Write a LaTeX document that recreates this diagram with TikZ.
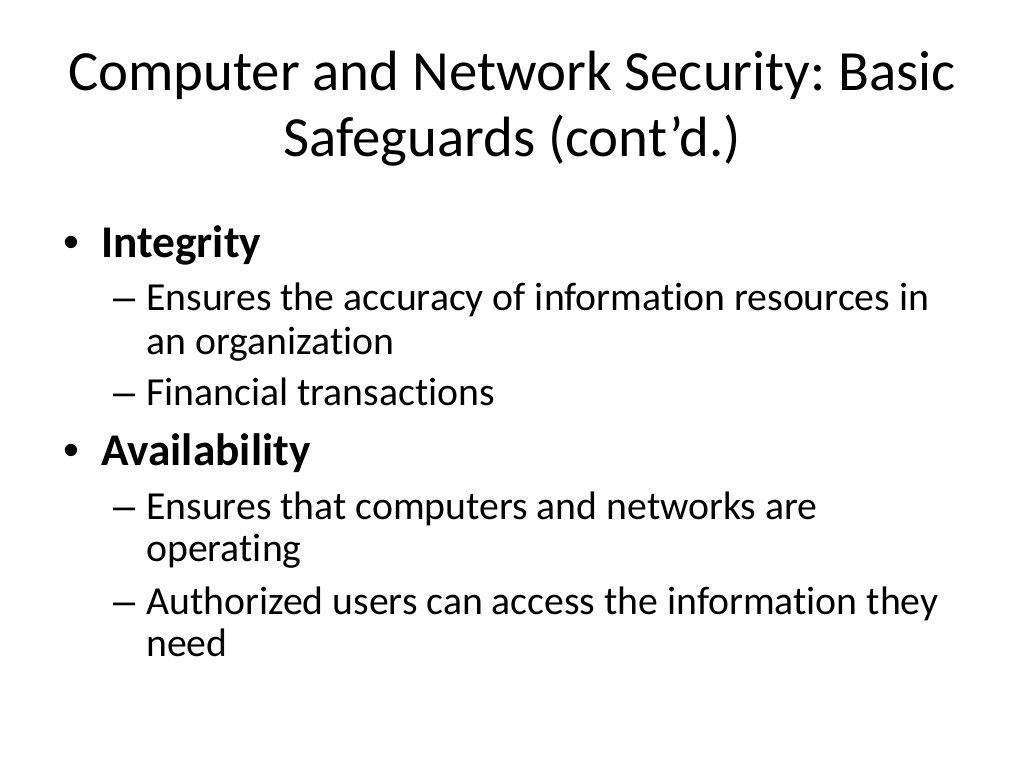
\documentclass[tikz,border=0pt]{standalone}
\usepackage{fontspec}
\setmainfont[Ligatures=CommonOff]{Carlito}
\newfontfamily\markfont{Liberation Sans}
\frenchspacing
\usetikzlibrary{positioning}
\tikzset{
  title/.style={anchor=base, inner sep=0pt, font=\fontsize{42.6}{50}\selectfont},
  lvlone/.style={anchor=base west, inner sep=0pt, font=\fontsize{34}{40}\selectfont\bfseries},
  lvltwo/.style={anchor=base west, inner sep=0pt, font=\fontsize{29.8}{36}\selectfont},
  dotmark/.style={anchor=base west, inner sep=0pt, font=\markfont\fontsize{34}{40}\selectfont},
  dashmark/.style={anchor=base west, inner sep=0pt, font=\markfont\fontsize{29.8}{36}\selectfont}
}
\begin{document}
\begin{tikzpicture}[x=0.75pt,y=-0.75pt]
  \useasboundingbox[fill=white] (0,0) rectangle (1024,768);
  % title
  \node[title] (titleA) at (512,90) {Computer and Network Security: Basic};
  \node[title] (titleB) at (512,156) {Safeguards (cont’d.)};
  % integrity
  \node[dotmark] (dotA) at (63,257) {•};
  \node[lvlone] (integ) at (101,257) {Integrity};
  \node[dashmark] (dashA) at (113,310) {–};
  \node[lvltwo] (accur) at (146,310) {Ensures the accuracy of information resources in};
  \node[lvltwo] (organ) at (146,354) {an organization};
  \node[dashmark] (dashB) at (113,405) {–};
  \node[lvltwo] (finan) at (146,405) {Financial transactions};
  % availability
  \node[dotmark] (dotB) at (63,465) {•};
  \node[lvlone] (avail) at (101,465) {Availability};
  \node[dashmark] (dashC) at (113,519) {–};
  \node[lvltwo] (compu) at (146,519) {Ensures that computers and networks are};
  \node[lvltwo] (opera) at (146,561) {operating};
  \node[dashmark] (dashD) at (113,614) {–};
  \node[lvltwo] (users) at (146,614) {Authorized users can access the information they};
  \node[lvltwo] (needs) at (146,656) {need};
\end{tikzpicture}
\end{document}
